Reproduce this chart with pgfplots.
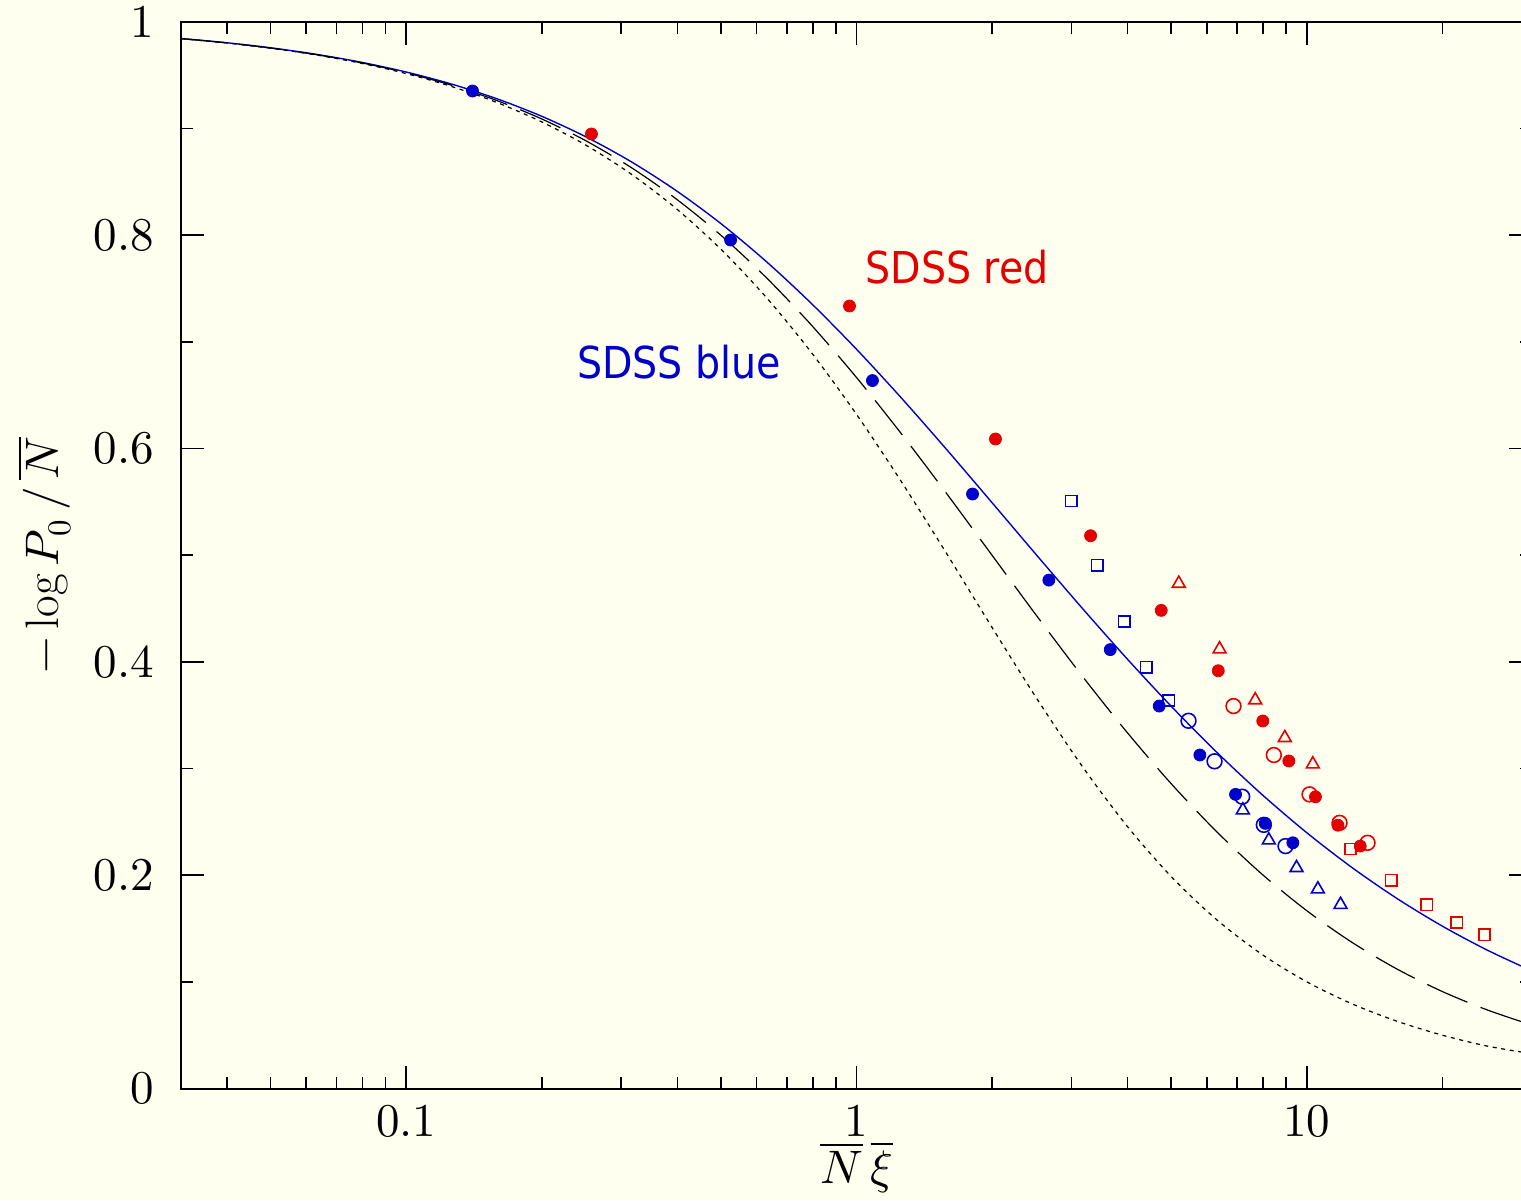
\documentclass[border=0pt]{standalone}
\usepackage{fontspec}
\usepackage{unicode-math}
\setmathfont{Latin Modern Math}
\usepackage{pgfplots}
\pgfplotsset{compat=1.18}
\newfontfamily\labfont{DejaVu Sans Condensed}
\definecolor{bgivory}{RGB}{255,255,240}
\definecolor{sdssblue}{RGB}{0,0,204}
\definecolor{sdssred}{RGB}{228,0,0}

\begin{document}
\begin{tikzpicture}
\fill[bgivory] (-90.5pt,-55.75pt) rectangle (670pt,544.25pt);
\useasboundingbox (-90.5pt,-55.75pt) rectangle (670pt,544.25pt);
\begin{axis}[
    at={(0pt,0pt)}, anchor=south west,
    scale only axis, width=675.5pt, height=533.25pt,
    xmode=log, xmin=0.0316228, xmax=31.6228,
    ymin=0, ymax=1,
    xtick={0.1,1,10}, xticklabels={$0.1$,$1$,$10$},
    minor xtick={0.04,0.05,0.06,0.07,0.08,0.09,0.2,0.3,0.4,0.5,0.6,0.7,0.8,0.9,2,3,4,5,6,7,8,9,20,30},
    ytick={0,0.2,0.4,0.6,0.8,1}, yticklabels={$0$,$0.2$,$0.4$,$0.6$,$0.8$,$1$},
    minor ytick={0.1,0.3,0.5,0.7,0.9},
    axis line style={line width=1pt},
    major tick length=11.5pt, minor tick length=6pt,
    every tick/.style={black, line width=0.8pt},
    tick label style={font=\fontsize{23.5}{24}\selectfont, inner sep=0pt},
    xticklabel style={anchor=center, yshift=-16.25pt},
    yticklabel style={anchor=east, xshift=-13.5pt},
    every axis x label/.style={at={(axis description cs:0.5,0)}, anchor=center, yshift=-39.25pt, font=\fontsize{23.5}{24}\selectfont},
    every axis y label/.style={at={(axis description cs:-0.1014,0.5)}, anchor=center, rotate=90, font=\fontsize{23.5}{24}\selectfont},
    xlabel={$\overline{N}\,\overline{\xi}$},
    ylabel={$-\log P_0\,/\,\overline{N}$},
]
% negative binomial
\addplot[sdssblue, line width=0.7pt, smooth] coordinates {
(0.031623,0.98452) (0.039811,0.98061) (0.050119,0.97575) (0.063096,0.96971)
(0.079433,0.96227) (0.1,0.95310) (0.125893,0.94189) (0.158489,0.92824)
(0.199526,0.91179) (0.251189,0.89214) (0.316228,0.86890) (0.398107,0.84179)
(0.501187,0.81059) (0.630957,0.77528) (0.794328,0.73601) (1,0.69315)
(1.258925,0.64729) (1.584893,0.59921) (1.995262,0.54982) (2.511886,0.50008)
(3.162278,0.45096) (3.981072,0.40332) (5.011872,0.35790) (6.309573,0.31526)
(7.943282,0.27582) (10,0.23979) (12.589254,0.20726) (15.848932,0.17820)
(19.952623,0.15247) (25.118864,0.12989) (31.622777,0.11021)
};
% long-dashed model
\addplot[black, line width=0.6pt, smooth, dash pattern=on 22pt off 7pt] coordinates {
(0.031623,0.98443) (0.039811,0.98048) (0.050119,0.97555) (0.063096,0.96942)
(0.079433,0.96180) (0.1,0.95238) (0.125893,0.94078) (0.158489,0.92657)
(0.199526,0.90930) (0.251189,0.88842) (0.316228,0.86348) (0.398107,0.83399)
(0.501187,0.79962) (0.630957,0.76018) (0.794328,0.71574) (1,0.66667)
(1.258925,0.61370) (1.584893,0.55790) (1.995262,0.50059) (2.511886,0.44327)
(3.162278,0.38743) (3.981072,0.33439) (5.011872,0.28523) (6.309573,0.24069)
(7.943282,0.20114) (10,0.16667) (12.589254,0.13709) (15.848932,0.11205)
(19.952623,0.09110) (25.118864,0.07375) (31.622777,0.05948)
};
% dotted model
\addplot[black, line width=0.6pt, smooth, dash pattern=on 2pt off 2.3pt] coordinates {
(0.031623,0.98435) (0.039811,0.98036) (0.050119,0.97535) (0.063096,0.96911)
(0.079433,0.96131) (0.1,0.95163) (0.125893,0.93962) (0.158489,0.92478)
(0.199526,0.90655) (0.251189,0.88429) (0.316228,0.85731) (0.398107,0.82495)
(0.501187,0.78650) (0.630957,0.74160) (0.794328,0.69004) (1,0.63212)
(1.258925,0.56877) (1.584893,0.50163) (1.995262,0.43304) (2.511886,0.36582)
(3.162278,0.30284) (3.981072,0.24650) (5.011872,0.19820) (6.309573,0.15820)
(7.943282,0.12585) (10,0.10000) (12.589254,0.07943) (15.848932,0.06310)
(19.952623,0.05012) (25.118864,0.03981) (31.622777,0.03262)
};
% blue open squares
\addplot[only marks, sdssblue, mark=square, mark size=2.8pt, mark options={line width=0.8pt}] coordinates {
(2.998,0.5509) (3.423,0.4906) (3.931,0.4377) (4.399,0.3950) (4.937,0.3637)
};
% blue open circles
\addplot[only marks, sdssblue, mark=o, mark size=3.7pt, mark options={line width=0.8pt}] coordinates {
(5.461,0.3448) (6.238,0.3068) (7.187,0.2736) (8.025,0.2472) (8.967,0.2273)
};
% blue open triangles
\addplot[only marks, sdssblue, mark=triangle, mark size=3.7pt, mark options={line width=0.8pt}] coordinates {
(7.210,0.2610) (8.234,0.2328) (9.486,0.2069) (10.58,0.1869) (11.88,0.1724)
};
% red open triangles
\addplot[only marks, sdssred, mark=triangle, mark size=3.7pt, mark options={line width=0.8pt}] coordinates {
(5.196,0.4735) (6.401,0.4120) (7.682,0.3642) (8.935,0.3288) (10.31,0.3041)
};
% red open circles
\addplot[only marks, sdssred, mark=o, mark size=3.7pt, mark options={line width=0.8pt}] coordinates {
(6.874,0.3586) (8.447,0.3127) (10.14,0.2758) (11.82,0.2491) (13.64,0.2304)
};
% red open squares
\addplot[only marks, sdssred, mark=square, mark size=2.8pt, mark options={line width=0.8pt}] coordinates {
(12.51,0.2245) (15.39,0.1954) (18.47,0.1723) (21.53,0.1557) (24.81,0.1441)
};
% blue filled
\addplot[only marks, sdssblue, mark=*, mark size=3pt] coordinates {
(0.1404,0.9353) (0.5252,0.7956) (1.085,0.6638) (1.810,0.5574) (2.674,0.4767)
(3.660,0.4115) (4.701,0.3586) (5.787,0.3127) (6.946,0.2758) (8.083,0.2486)
(9.309,0.2304)
};
% red filled
\addplot[only marks, sdssred, mark=*, mark size=3pt] coordinates {
(0.2579,0.8950) (0.9648,0.7337) (2.035,0.6090) (3.310,0.5183) (4.750,0.4483)
(6.358,0.3917) (7.984,0.3446) (9.121,0.3071) (10.45,0.2735) (11.72,0.2469)
(13.14,0.2273)
};
\node[sdssred, anchor=base, inner sep=0pt, font=\labfont\fontsize{22}{26}\selectfont] at (axis cs:1.672,0.7550) {SDSS red};
\node[sdssblue, anchor=base, inner sep=0pt, font=\labfont\fontsize{22}{26}\selectfont] at (axis cs:0.4040,0.6659) {SDSS blue};
\end{axis}
\end{tikzpicture}
\end{document}
